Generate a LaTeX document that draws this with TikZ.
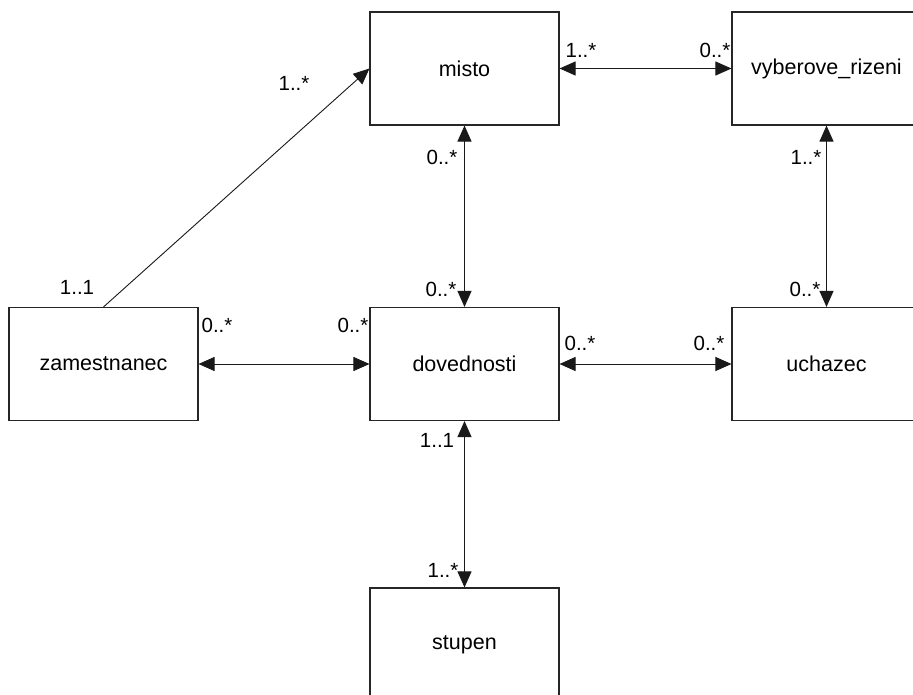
\documentclass[tikz,border=0pt]{standalone}
\usepackage{fontspec}
\setmainfont{Liberation Sans}
\usetikzlibrary{arrows.meta}
\begin{document}
\begin{tikzpicture}[x=1pt,y=-1pt,
  entity/.style={draw=black!85,line width=1.1pt,fill=white,minimum width=189pt,minimum height=113pt,inner sep=0pt,
    font=\fontsize{21.5}{25}\selectfont},
  mult/.style={inner sep=0pt,font=\fontsize{20.5}{24}\selectfont},
  assoc/.style={line width=0.9pt,draw=black!90},
  tip/.tip={Triangle[length=16pt,width=14pt]},
  both/.style={assoc,tip-tip},
  single/.style={assoc,-tip}]
\clip (0,0) rectangle (913,695);
\fill[white] (0,0) rectangle (913,695);

% entities
\node[entity] (misto) at (464.5,68.5) {misto};
\node[entity] (vyber) at (826.5,68.5) {vyberove\_rizeni};
\node[entity] (zam)   at (103.5,364) {zamestnanec};
\node[entity] (dov)   at (464.5,364) {dovednosti};
\node[entity] (uch)   at (826.5,364) {uchazec};
\node[entity] (stup)  at (464.5,644.5) {stupen};

% associations
\draw[single] (zam.north) -- (misto.west);
\draw[both] (misto.east) -- (vyber.west);
\draw[both] (misto.south) -- (dov.north);
\draw[both] (vyber.south) -- (uch.north);
\draw[both] (zam.east) -- (dov.west);
\draw[both] (dov.east) -- (uch.west);
\draw[both] (dov.south) -- (stup.north);

% multiplicities
\node[mult] (m1) at (294,83) {1..*};
\node[mult] (m2) at (77,287) {1..1};
\node[mult] (m3) at (581,50) {1..*};
\node[mult] (m4) at (715,50) {0..*};
\node[mult] (m5) at (442,157) {0..*};
\node[mult] (m6) at (441,289) {0..*};
\node[mult] (m7) at (806,157) {1..*};
\node[mult] (m8) at (805,289) {0..*};
\node[mult] (m9) at (217,325) {0..*};
\node[mult] (m10) at (353,325) {0..*};
\node[mult] (m11) at (580,343) {0..*};
\node[mult] (m12) at (709,343) {0..*};
\node[mult] (m13) at (437,440) {1..1};
\node[mult] (m14) at (443,570) {1..*};
\end{tikzpicture}
\end{document}
